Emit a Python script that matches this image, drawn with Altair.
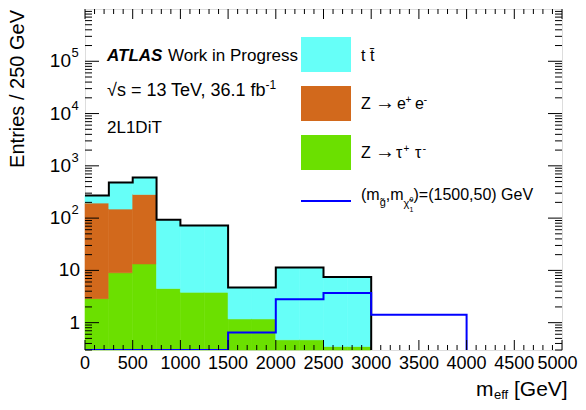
import altair as alt
import pandas as pd

# ---------------- data ----------------
bin_width = 250
bin_lo = list(range(0, 5000, 250))  # 20 bins of 250 GeV
ztautau = [2.88, 9.0, 13.3, 4.5, 3.8, 3.8, 1.18, 1.18, 0.47, 0.47, 0.35, 0.35,
           0, 0, 0, 0, 0, 0, 0, 0]
zee = [191, 140, 271, 0, 0, 0, 0, 0, 0, 0, 0, 0,
       0, 0, 0, 0, 0, 0, 0, 0]
ttbar = [78, 333, 316, 88.5, 68.7, 68.7, 3.52, 3.52, 10.9, 10.9, 7.15, 7.15,
         0, 0, 0, 0, 0, 0, 0, 0]
signal = [0, 0, 0, 0, 0, 0, 0.65, 0.65, 2.8, 2.8, 3.7, 3.7,
          1.42, 1.42, 1.42, 1.42, 0, 0, 0, 0]

proc_names = ["Z->tautau", "Z->ee", "ttbar"]
proc_colors = ["#6BE000", "#D2691C", "#66FFF8"]

x_major = list(range(0, 5001, 500))
x_minor = [v for v in range(0, 5001, 100) if v % 500]
y_major = [1, 10, 100, 1000, 10000, 100000]
y_minor = [m / 10 for m in range(3, 10)] + [m * 10 ** k for k in range(0, 6) for m in range(2, 10)]

# ---------------- layout ----------------
FONT = "Liberation Sans"
W, H = 477, 341
PL, PT, PR, PB = 77, 1, 16, 52
OX, OY = 8 + PL, 8 + PT
FLOOR = 1e-3
XLAB = 18

xs = alt.Scale(domain=[0, 5000], nice=False, zero=False)
ys = alt.Scale(type="log", domain=[0.3, 1e6], nice=False, clamp=True)

# Arial / Liberation Sans advance widths (per 1000 em)
CW = {' ': 278, '(': 333, ')': 333, ',': 278, '=': 584, '.': 278, '-': 333, '+': 584,
      'm': 833, 'e': 556, 'f': 278, 'g': 556, 's': 500, 't': 278, 'b': 556,
      'T': 611, 'V': 667, 'G': 778, 'Z': 611, '[': 278, ']': 278,
      '\u03c7': 550, '\u221a': 549, '\u0303': 0, '\u0304': 0}
for d in "0123456789":
    CW[d] = 556


def tw(s, size):
    return sum(CW.get(c, 556) for c in s) / 1000 * size


def run(x0, y0, parts, **kw):
    out, x = [], x0
    for p in parts:
        text, size, dy = p[0], p[1], p[2]
        lead = len(text) - len(text.lstrip(" "))
        x += tw(" " * lead, size)
        text = text.lstrip(" ")
        out.append(dict(text=text, x=x, y=y0 + dy, size=size, **kw))
        x += p[3] if len(p) > 3 else tw(text, size)
    return out


def at(x, y, text, size, **kw):
    return [dict(text=text, x=x, y=y, size=size, **kw)]


one = pd.DataFrame({"k": [0]})
layers = []

# ---------------- stacked histogram ----------------
rows = []
for i, lo in enumerate(bin_lo):
    cum = 0.0
    for name, vals in zip(proc_names, [ztautau, zee, ttbar]):
        v = vals[i]
        if v > 0:
            rows.append({"proc": name, "lo": lo, "hi": lo + bin_width,
                         "bottom": cum if cum > 0 else FLOOR, "top": cum + v})
            cum += v
bars_df = pd.DataFrame(rows)

cscale = alt.Scale(domain=proc_names, range=proc_colors)
layers.append(
    alt.Chart(bars_df).mark_rect(strokeWidth=0.6).encode(
        x=alt.X("lo:Q", scale=xs, axis=None), x2="hi:Q",
        y=alt.Y("bottom:Q", scale=ys, axis=None), y2="top:Q",
        color=alt.Color("proc:N", scale=cscale, legend=None),
        stroke=alt.Stroke("proc:N", scale=cscale, legend=None),
    )
)

# total outline
total = [a + b + c for a, b, c in zip(ztautau, zee, ttbar)]
tx = [lo for lo, t in zip(bin_lo, total) if t > 0]
ty = [t for t in total if t > 0]
tx.append(tx[-1] + bin_width)
ty.append(FLOOR)
layers.append(
    alt.Chart(pd.DataFrame({"x": tx, "y": ty})).mark_line(
        interpolate="step-after", color="black", strokeWidth=2, clip=True).encode(
        x=alt.X("x:Q", scale=xs, axis=None), y=alt.Y("y:Q", scale=ys, axis=None))
)

# signal
last = max(i for i, s in enumerate(signal) if s > 0)
sx = bin_lo[:last + 1] + [bin_lo[last] + bin_width]
sy = [s if s > 0 else FLOOR for s in signal[:last + 1]] + [FLOOR]
layers.append(
    alt.Chart(pd.DataFrame({"x": sx, "y": sy})).mark_line(
        interpolate="step-after", color="#0000FF", strokeWidth=2, clip=True).encode(
        x=alt.X("x:Q", scale=xs, axis=None), y=alt.Y("y:Q", scale=ys, axis=None))
)

# ---------------- inward ticks ----------------
def xticks(vals, ln):
    d = pd.DataFrame({"v": vals})
    base = alt.Chart(d).mark_rule(color="black", strokeWidth=1)
    return [
        base.encode(x=alt.X("v:Q", scale=xs, axis=None), y=alt.value(H), y2=alt.value(H - ln)),
        base.encode(x=alt.X("v:Q", scale=xs, axis=None), y=alt.value(0), y2=alt.value(ln)),
    ]


def yticks(vals, ln):
    d = pd.DataFrame({"v": vals})
    base = alt.Chart(d).mark_rule(color="black", strokeWidth=1)
    return [
        base.encode(y=alt.Y("v:Q", scale=ys, axis=None), x=alt.value(0), x2=alt.value(ln)),
        base.encode(y=alt.Y("v:Q", scale=ys, axis=None), x=alt.value(W), x2=alt.value(W - ln)),
    ]


layers += xticks(x_major, 10) + xticks(x_minor, 5) + yticks(y_major, 14) + yticks(y_minor, 7)

# ---------------- tick labels ----------------
xl = pd.DataFrame({"v": x_major[:-1], "t": [str(v) for v in x_major[:-1]]})
layers.append(alt.Chart(xl).mark_text(align="center", baseline="top", fontSize=XLAB, font=FONT,
                                      color="black").encode(
    x=alt.X("v:Q", scale=xs, axis=None), y=alt.value(H + 5), text="t:N"))
xl_last = pd.DataFrame({"v": x_major[-1:], "t": [str(x_major[-1])]})
layers.append(alt.Chart(xl_last).mark_text(align="right", baseline="top", fontSize=XLAB, font=FONT,
                                           color="black").encode(
    x=alt.value(W + PR - 0.5), y=alt.value(H + 5), text="t:N"))

plain = pd.DataFrame({"v": [1, 10], "t": ["1", "10"]})
pw = pd.DataFrame({"v": [100, 1000, 10000, 100000], "t": ["10"] * 4, "e": ["2", "3", "4", "5"]})
layers.append(alt.Chart(plain).mark_text(align="right", baseline="middle", fontSize=19, font=FONT,
                                         color="black").encode(
    y=alt.Y("v:Q", scale=ys, axis=None), x=alt.value(-5), text="t:N"))
layers.append(alt.Chart(pw).mark_text(align="right", baseline="middle", fontSize=19, font=FONT,
                                      color="black").encode(
    y=alt.Y("v:Q", scale=ys, axis=None), x=alt.value(-14), text="t:N"))
layers.append(alt.Chart(pw).mark_text(align="left", baseline="middle", fontSize=13, font=FONT,
                                      color="black", dy=-8).encode(
    y=alt.Y("v:Q", scale=ys, axis=None), x=alt.value(-13.5), text="e:N"))

# ---------------- legend boxes ----------------
legend_boxes = [("ttbar", 37, 72), ("Z->ee", 86, 121), ("Z->tautau", 135, 170)]
for name, y0, y1 in legend_boxes:
    layers.append(alt.Chart(one).mark_rect(color=proc_colors[proc_names.index(name)]).encode(
        x=alt.value(301 - OX), x2=alt.value(351 - OX), y=alt.value(y0 - OY), y2=alt.value(y1 - OY)))
layers.append(alt.Chart(one).mark_rule(color="#0000FF", strokeWidth=2).encode(
    x=alt.value(301 - OX), x2=alt.value(351 - OX), y=alt.value(201 - OY)))

# ---------------- texts ----------------
pieces = []
pieces += at(107, 61, "ATLAS", 17, weight="bold", style="italic")
pieces += at(168, 61, "Work in Progress", 17)
pieces += at(107, 96, "\u221as = 13 TeV, 36.1 fb", 18)
pieces += at(265.5, 89, "-1", 12)
pieces += at(107, 133, "2L1DiT", 17)
pieces += at(361, 61, "t t\u0304", 16)
# Z -> e+ e-
pieces += at(361, 109, "Z", 16)
pieces += at(375, 109, "\u2192", 20)
pieces += at(397, 109, "e", 16)
pieces += at(405.5, 103, "+", 10)
pieces += at(415, 109, "e", 16)
pieces += at(423.5, 103, "-", 11)
# Z -> tau+ tau-
pieces += at(361, 158, "Z", 16)
pieces += at(375, 158, "\u2192", 20)
pieces += at(396, 158, "\u03c4", 16)
pieces += at(403.5, 152, "+", 10)
pieces += at(415, 158, "\u03c4", 16)
pieces += at(422.5, 152, "-", 11)
# signal label
pieces += run(361, 200, [("(m", 16, 0), ("g\u0303", 11, 6), (",m", 16, 0), ("\u03c7\u0303", 11, 7),
                         ("1", 7, 12, 0), ("0", 7, 2), (")=(1500,50) GeV", 16, 0)])
# x axis title
pieces += at(476, 396, "m", 21)
pieces += at(494, 399, "eff", 13)
pieces += at(514, 396, "[GeV]", 21)

for p in pieces:
    layers.append(alt.Chart(one).mark_text(
        align="left", baseline="alphabetic", fontSize=p["size"], font=FONT, color="black",
        fontWeight=p.get("weight", "normal"), fontStyle=p.get("style", "normal")).encode(
        x=alt.value(p["x"] - OX), y=alt.value(p["y"] - OY), text=alt.value(p["text"])))

# y axis title (rotated)
layers.append(alt.Chart(one).mark_text(
    align="right", baseline="alphabetic", angle=270, fontSize=20, font=FONT, color="black").encode(
    x=alt.value(24 - OX), y=alt.value(10 - OY), text=alt.value("Entries / 250 GeV")))

chart = alt.layer(*layers).properties(
    width=W, height=H,
    autosize=alt.AutoSizeParams(type="none"),
    padding={"left": PL, "top": PT, "right": PR, "bottom": PB},
).configure_view(stroke="black", strokeWidth=1).configure(background="white")

chart.save("out.html", embed_options={"renderer": "svg", "actions": False})
